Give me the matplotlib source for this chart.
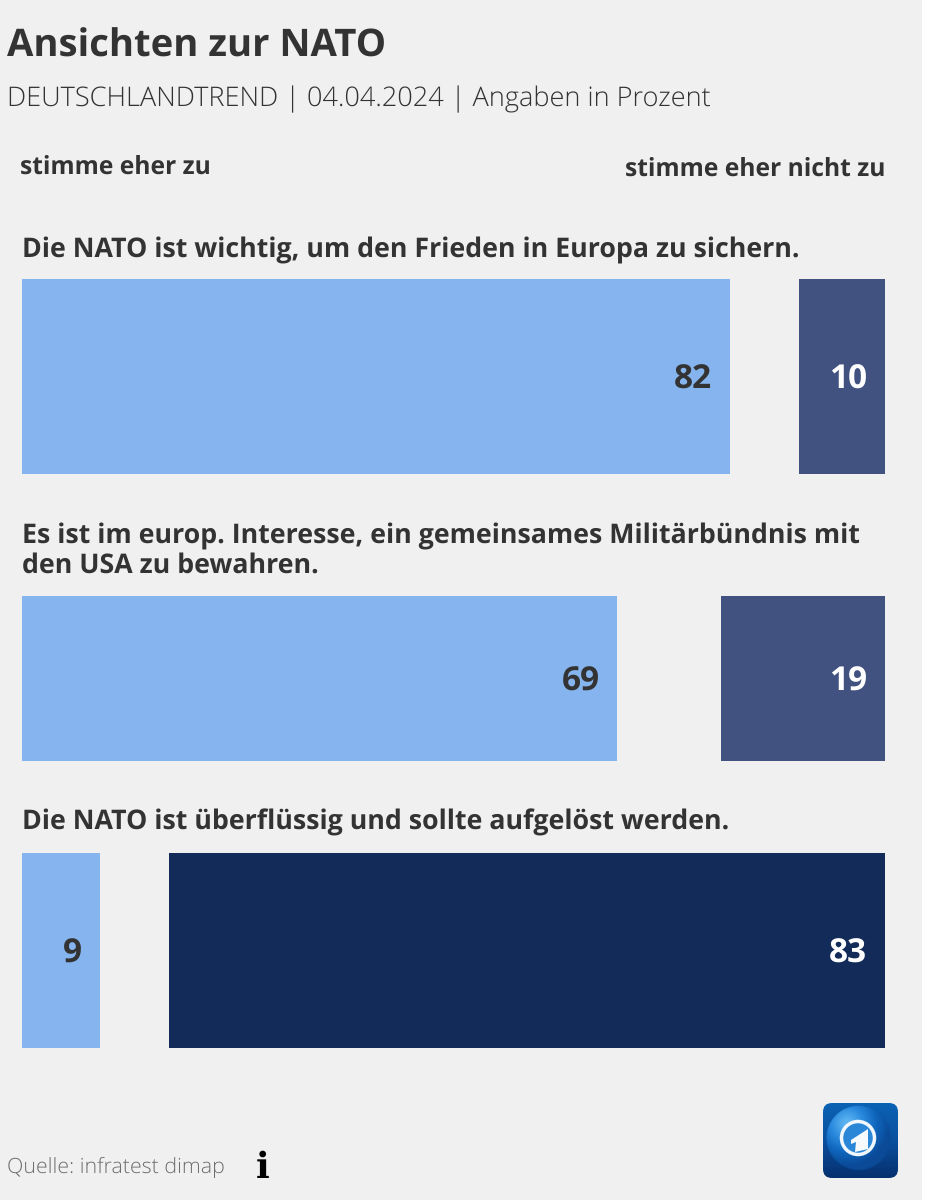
import matplotlib
matplotlib.use('Agg')
import matplotlib.pyplot as plt
from matplotlib.colors import LinearSegmentedColormap
from matplotlib.patches import Rectangle, FancyBboxPatch, Circle, Polygon
import numpy as np

W, H = 930, 1200
BG = '#f0f0f0'
TXT = '#333333'

questions = ['Die NATO ist wichtig, um den Frieden in Europa zu sichern.',
             'Es ist im europ. Interesse, ein gemeinsames Militärbündnis mit\nden USA zu bewahren.',
             'Die NATO ist überflüssig und sollte aufgelöst werden.']
agree = [82, 69, 9]
disagree = [10, 19, 83]
disagree_colors = ['#415280', '#415280', '#122b58']
agree_color = '#85b4ee'

# top and bottom of each bar in pixels, question text position (top of text)
bar_rows = [(279, 474), (596, 761), (853, 1048)]
question_y = [236.5, 522.5, 809]

plt.rcParams['font.family'] = ['Open Sans', 'DejaVu Sans']
plt.rcParams['text.hinting'] = 'none'
fig = plt.figure(figsize=(W / 100, H / 100), dpi=100, facecolor='white')

# page, in pixel coordinates
page = fig.add_axes([0, 0, 1, 1])
page.set_xlim(0, W)
page.set_ylim(H, 0)
page.axis('off')
page.add_patch(Rectangle((0, 0), 922, H, color=BG, lw=0))

page.text(7, 47, 'Ansichten zur NATO', fontsize=27.5, fontweight='bold', color=TXT, va='center')
page.text(7, 99, 'DEUTSCHLANDTREND | 04.04.2024 | Angaben in Prozent', fontsize=19.5, color=TXT, va='center', fontweight='light')
page.text(20, 167.5, 'stimme eher zu', fontsize=17.75, fontweight='bold', color=TXT, va='center')
page.text(885, 169.5, 'stimme eher nicht zu', fontsize=17.75, fontweight='bold', color=TXT, va='center', ha='right')

for q, y in zip(questions, question_y):
    page.text(22, y, q, fontsize=19.22, fontweight='bold', color=TXT, va='top', linespacing=1.14)

# one axes per row, x runs 0-100 percent across the full width
for i, (top, bottom) in enumerate(bar_rows):
    ax = fig.add_axes([22 / W, 1 - bottom / H, 863 / W, (bottom - top) / H])
    ax.set_xlim(0, 100)
    ax.set_ylim(0, 1)
    ax.axis('off')
    ax.patch.set_alpha(0)
    ax.barh(0.5, agree[i], height=1, left=0, color=agree_color)
    ax.barh(0.5, disagree[i], height=1, left=100 - disagree[i], color=disagree_colors[i])
    ax.annotate(str(agree[i]), (agree[i], 0.5), xytext=(-12.8, -2.7), textcoords='offset points', ha='right',
                va='center', fontsize=24, fontweight='bold', color=TXT)
    ax.annotate(str(disagree[i]), (100, 0.5), xytext=(-12.8, -2.7), textcoords='offset points', ha='right',
                va='center', fontsize=24, fontweight='bold', color='white')

# footer
page.text(7, 1167, 'Quelle: infratest dimap', fontsize=15.4, color='#6e6e6e', va='center', fontweight='light')
page.text(263, 1168, 'i', fontsize=26, family='DejaVu Serif', fontweight='bold', color='black', ha='center', va='center')

# logo
extent = (823, 898, 1178, 1103)
xx, yy = np.meshgrid(np.linspace(-1, 1, 300), np.linspace(-1, 1, 300))
back_cmap = LinearSegmentedColormap.from_list('back', ['#0a62b4', '#0a4f9e', '#06306f'])
clip = FancyBboxPatch((832, 1112), 57, 57, boxstyle='round,pad=9', fc='none', ec='none')
page.add_patch(clip)
im = page.imshow((yy + 1) / 2, extent=extent, cmap=back_cmap, aspect='auto', zorder=2)
im.set_clip_path(clip)

globe_cmap = LinearSegmentedColormap.from_list('globe', ['#5ab2f0', '#2a8ade', '#0f66bc', '#0a4a98'])
gx = (xx + 0.05) / 0.87
gy = (yy + 0.07) / 0.87
rr = np.hypot(gx, gy)
rgba = globe_cmap(np.clip((np.hypot(gx + 0.35, gy + 0.45) - 0.1) / 1.2, 0, 1))
rgba[..., 3] = np.clip((1 - rr) * 40, 0, 1)
page.imshow(rgba, extent=extent, aspect='auto', zorder=3)

page.add_patch(Circle((858, 1138), 16.5, fc='#2a87d8', ec='#f0f7fd', lw=2.5, zorder=4))
page.add_patch(Polygon([(851, 1140), (868, 1129), (868, 1149), (855, 1152), (856, 1142), (851, 1144)],
                       fc='#f6fafd', ec='none', zorder=5))
page.set_xlim(0, W)
page.set_ylim(H, 0)

fig.savefig('out.png', dpi=100, facecolor='white')
